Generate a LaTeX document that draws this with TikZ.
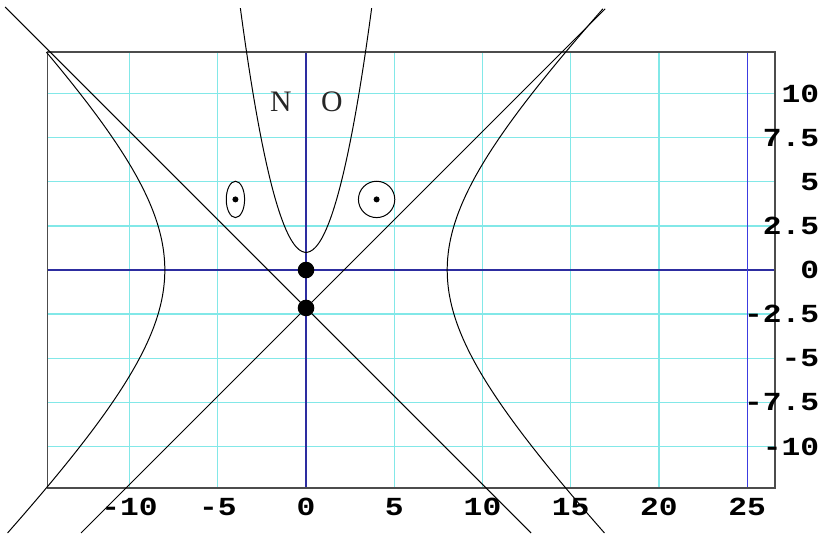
\documentclass[tikz,border=0pt]{standalone}
\usepackage{fontspec}
\newfontfamily\tickfont[FakeStretch=1.2]{Liberation Mono}
\newfontfamily\letterfont{Liberation Serif}
\definecolor{gridcyan}{RGB}{130,232,232}
\definecolor{axisblue}{RGB}{45,45,160}
\definecolor{rightblue}{RGB}{60,60,225}
\begin{document}
\begin{tikzpicture}[x=0.5cm,y=0.5cm,line width=0.8pt,
  gridline/.style={gridcyan,line width=1.1pt},
  axisline/.style={axisblue,line width=1.1pt},
  ticklabel/.style={font=\tickfont\bfseries\fontsize{21}{21}\selectfont,inner sep=0pt},
  letter/.style={font=\letterfont\fontsize{24}{26}\selectfont,text=black!85}]
  \useasboundingbox (-17.34,-15.01) rectangle (29.35,15.30);

  % 网格
  \foreach \x in {-10,-5,5,10,15,20}
    \draw[gridline] (\x,-12.35) -- (\x,12.35);
  \foreach \y in {-10,-7.5,-5,-2.5,2.5,5,7.5,10}
    \draw[gridline] (-14.65,\y) -- (26.57,\y);

  % 坐标轴与边框
  \draw[axisline] (-14.65,0) -- (26.57,0);
  \draw[axisline] (0,-12.35) -- (0,12.35);
  \draw[rightblue,line width=1.1pt] (25,-12.35) -- (25,12.35);
  \draw[black!70,line width=1pt] (-14.65,-12.35) rectangle (26.57,12.35);

  % 刻度
  \foreach \x [count=\i] in {-10,-5,0,5,10,15,20,25}
    \node[ticklabel] (xl\i) at (\x,-13.45) {\x};
  \foreach \y [count=\i] in {10,7.5,5,2.5,0,-2.5,-5,-7.5,-10}
    \node[ticklabel,anchor=east] (yl\i) at (29.1,\y) {\y};

  % 双曲线 x^2-y^2=64
  \draw[domain=-14.9:14.8,smooth,samples=60,variable=\t] plot ({sqrt(64+\t*\t)},\t);
  \draw[domain=-14.9:12.35,smooth,samples=60,variable=\t] plot ({-sqrt(64+\t*\t)},\t);

  % 抛物线 y=x^2+1
  \draw[domain=-3.72:3.72,smooth,samples=50] plot (\x,{\x*\x+1});

  % 两条直线
  \draw (-17.05,14.9) -- (12.75,-14.9);
  \draw (-12.75,-14.9) -- (16.95,14.8);

  % 椭圆与圆
  \draw (-4,4) ellipse [x radius=0.52,y radius=1.03];
  \draw (4,4) circle [radius=1.03];
  \fill (-4,4) circle [radius=0.17];
  \fill (4,4) circle [radius=0.17];

  \fill (0,0) circle [radius=0.47];
  \fill (0,-2.15) circle [radius=0.47];

  \node[letter] (N) at (-1.42,9.52) {N};
  \node[letter] (O) at (1.47,9.52) {O};
\end{tikzpicture}
\end{document}
